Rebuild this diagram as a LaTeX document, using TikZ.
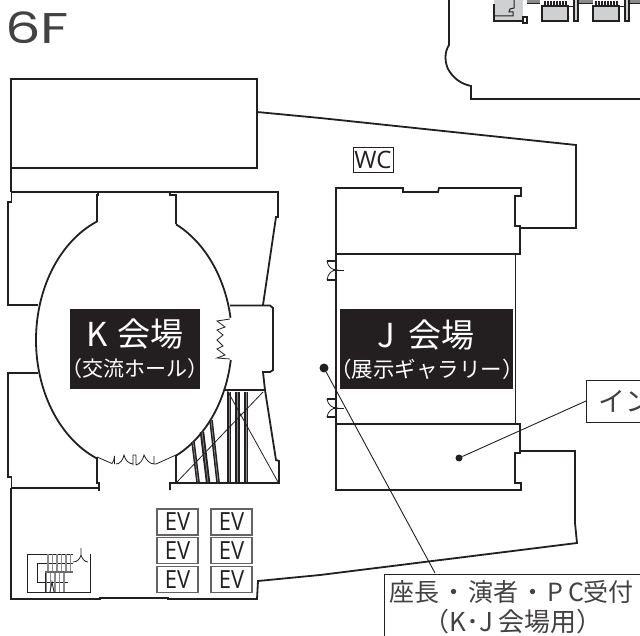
\documentclass[tikz,border=0pt]{standalone}
\usepackage{fontspec}
\newfontfamily\cjk{Noto Sans CJK JP}
\newfontfamily\lat{Open Sans}
\newfontfamily\latn[FakeStretch=0.88]{Open Sans}
\newfontfamily\ttlfont[FakeStretch=1.3]{Poppins}
\definecolor{ink}{HTML}{231F20}
\definecolor{gry}{HTML}{CFD0D2}
\definecolor{mid}{HTML}{8A8B8D}
\tikzset{
  wall/.style={draw=ink,line width=1.8pt,line join=miter},
  fine/.style={draw=ink,line width=0.8pt},
  lead/.style={draw=ink,line width=0.9pt},
  dotn/.style={circle,fill=ink,inner sep=0pt,minimum size=#1},
  evbox/.style={draw=ink!70,line width=1.1pt,minimum width=41pt,minimum height=26pt,inner sep=0pt,text=ink,font=\latn\fontsize{25}{25}\selectfont},
  blk/.style={fill=ink,draw=none,inner sep=0pt},
  wht/.style={text=white,inner sep=0pt},
  lab/.style={text=ink!85,inner sep=0pt},
  stairc/.style={draw=mid,line width=0.7pt},
  stp/.style={draw=mid,line width=1.8pt}
}
\begin{document}
\begin{tikzpicture}[x=1pt,y=-1pt]
\useasboundingbox (0,0) rectangle (640,636);
\clip (0,0) rectangle (640,636);
% upper right building
\draw[wall] (449,0) -- (449,45) .. controls (444,53) and (445,62) .. (448,69) .. controls (453,78) and (461,84) .. (471,86) -- (471,99) -- (640,99);
\fill[gry] (494,0) rectangle (523,21);
\draw[ink,line width=1.4pt] (494,4) -- (494,21) -- (523,21) -- (523,17);
\draw[ink,line width=1pt] (494,16) -- (513,16) -- (513,12) -- (509,12) -- (510,9) -- (514,8) -- (514,0);
\draw[ink,line width=1.2pt] (523,17) rectangle (527,23);
\foreach \a/\b in {527/540,578/593,629/640}{\fill[mid] (\a,0) rectangle (\b,3);\draw[ink,line width=.6pt] (\a,3) -- (\b,3);}
\foreach \x in {542,593}{
  \fill[gry] (\x,6) rectangle (\x+26,21);
  \draw[ink,line width=1.4pt] (\x,6) rectangle (\x+26,21);
  \foreach \k in {3,6,...,24}{\draw[ink,line width=1.2pt] (\x+\k,1) -- (\x+\k,6);}
  \draw[ink,line width=1pt] (\x+26,7) -- (\x+32,7);
}
\foreach \x in {574,625}{\fill[gry] (\x,0) rectangle (\x+4,21);\draw[ink,line width=1.3pt] (\x,0) -- (\x,21) -- (\x+4,21) -- (\x+4,0);}
% main outline
\draw[wall] (11,488) -- (11,599) -- (100,599) -- (100,598) -- (168,598) -- (168,599) -- (257,599) -- (258,581) -- (320,575) -- (577,543) -- (575,523) -- (575,451) -- (520,451) -- (520,453) -- (515,453) -- (515,483) -- (521,483) -- (521,490) -- (336,490) -- (336,188) -- (403,188) -- (403,192) -- (438,192) -- (439,188) -- (521,188) -- (521,196) -- (515,196) -- (515,226) -- (520,226) -- (520,228) -- (576,228) -- (576,145) -- (320,118) -- (257,112);
\draw[wall] (11,79) rectangle (257,168);
\draw[wall] (11,168) -- (11,192);
\draw[wall] (336,254) -- (520,254) -- (520,228);
\draw[wall] (515.5,254) -- (515.5,424);
\draw[wall] (336,424) -- (520,424) -- (520,451);
% K hall surround
\draw[wall] (38,305) -- (8,305) -- (8,202) -- (11.5,202) -- (11.5,192) -- (98,192) -- (98,195) -- (97,195) -- (97,222);
\draw[wall] (98,192) -- (170,192) -- (170,195) -- (176,195) -- (176,224);
\draw[wall] (170,192) -- (278,192) -- (278,217) -- (276,217) -- (263,305);
\draw[wall] (230,305.5) -- (270,305.5) -- (273,308) -- (273,370) -- (270,372) -- (263,372) -- (265,390) -- (276,460) -- (279,461) -- (279,483) -- (170,483) -- (170,490);
\draw[wall] (38,373) -- (8,373) -- (8,477) -- (11.5,477) -- (11.5,488) -- (99,488);
\draw[wall] (99,491) -- (99,483) -- (97,483) -- (97,457);
\draw[wall] (176,455) -- (176,483);
% ellipse
\draw[wall] plot[domain=112:248,samples=60,smooth] ({134+98*cos(\x)},{340+128*sin(\x)});
\draw[wall] plot[domain=-64.6:-10,samples=40,smooth] ({134+98*cos(\x)},{340+128*sin(\x)});
\draw[wall] plot[domain=9:65,samples=40,smooth] ({134+98*cos(\x)},{340+128*sin(\x)});
% doors of the hall
\draw[fine] (230,319) -- (217,321) -- (225,327) -- (217,330) -- (223,335) -- (217,340) -- (223,346) -- (217,349) -- (225,355) -- (217,358) -- (230,359);
\draw[fine] (97,457) -- (112,463.5) .. controls (114,462) and (114,459) .. (114.5,456) -- (114.5,464) (116,464) .. controls (120,464) and (123,460) .. (124,455) .. controls (125,460) and (129,464) .. (133,464) (133,455) -- (133,465) (136,455) -- (136,465) (133,455) -- (136,455) (136,465) .. controls (140,464) and (143,460) .. (144,455) .. controls (146,460) and (150,464) .. (154,464) (154,456) -- (154,464) -- (156,464) -- (176,455);
% stairs, lower right of hall
\draw[wall] (225,390) -- (265,390);
\foreach \a/\b/\c/\d/\w in {229/392/229/482/3.6,237/392/237/482/5,246/392/246/482/3.6,193/442/198/482/3.6,202/432/208/482/4.4,211/420/218/482/3.6}{
  \draw[draw=ink,line width=\w pt] (\a,\b) -- (\c,\d);
  \draw[stairc] (\a,\b) -- (\c,\d);
}
\draw[fine] (177,482) -- (263,392) (227,390) -- (278,482);
% stairs, lower left
\draw[fine] (73,554) -- (27,554) -- (27,592) -- (90,592) -- (90,554);
\draw[fine] (37,582) -- (37,563) -- (73,563);
\draw[fine] (37,582) -- (68,582);
\foreach \x in {48,52.5,...,73}{\draw[stp] (\x,554) -- (\x,572);}
\foreach \x in {46,50.5,...,68}{\draw[stp] (\x,572) -- (\x,592);}
\draw[draw=ink,line width=.7pt] (45,592) -- (45,572);
\draw[draw=mid!70!ink,line width=2.4pt] (45,572) -- (73,572);
\draw[fine] (50,592) -- (52,582) -- (54,592);
\draw[fine] (73,562) .. controls (77,562) and (80,559) .. (81,555) .. controls (82,559) and (85,562) .. (88,562) (81,548) -- (81,555);
% doors of room J
\foreach \t/\m/\b in {261/270/280,399/408/417}{
  \draw[wall,line width=1.3pt] (327,\t) -- (336,\t) (327,\b) -- (336,\b);
  \draw[fine] (327,\t) .. controls (328,\m-3) and (332,\m) .. (337,\m) .. controls (332,\m) and (328,\m+3) .. (327,\b);
  \draw[fine] (337,\m) -- (344,\m);
}
% black labels
\node[blk,minimum width=130pt,minimum height=80pt] (kbox) at (135,349) {};
\node[blk,minimum width=173pt,minimum height=80pt] (jbox) at (426.5,349) {};
\node[wht,font=\cjk\fontsize{33}{33}\selectfont] (kt) at (135,334) {K\hspace{2pt} 会場};
\node[wht,font=\cjk\fontsize{21}{21}\selectfont] (ks) at (135,369) {（交流ホール）};
\node[wht,font=\cjk\fontsize{33}{33}\selectfont] (jt) at (426,335) {J\hspace{5pt} 会場};
\node[wht,font=\cjk\fontsize{21.5}{22}\selectfont] (js) at (427,369) {（展示ギャラリー）};
% title
\node[lab,font=\ttlfont\fontsize{43}{43}\selectfont,anchor=base west] (ttl) at (5,44) {6F};
% WC
\node[draw=ink,line width=.9pt,minimum width=40pt,minimum height=25pt,inner sep=0pt,text=ink,font=\lat\fontsize{24}{24}\selectfont] (wc) at (373,159.5) {WC};
% EV
\node[evbox] (e1) at (177.5,522) {EV};
\node[evbox] (e2) at (231.5,522) {EV};
\node[evbox] (e3) at (177.5,550.5) {EV};
\node[evbox] (e4) at (231.5,550.5) {EV};
\node[evbox] (e5) at (177.5,579.5) {EV};
\node[evbox] (e6) at (231.5,579.5) {EV};
% callouts
\fill[white] (586,380) rectangle (640,422);
\draw[draw=ink,line width=.9pt] (640,380) -- (586,380) -- (586,422) -- (640,422);
\coordinate (inl) at (586,401);
\node[lab,font=\cjk\fontsize{27}{27}\selectfont,anchor=west] (int) at (598,401) {イン};
\node[dotn=7pt] (d1) at (459,458) {};
\draw[lead] (inl) -- (d1);
\fill[white] (384,574.5) rectangle (640,636);
\draw[draw=ink,line width=.9pt] (640,574.5) -- (384,574.5) -- (384,636);
\coordinate (rcl) at (435,573);
\node[lab,font=\cjk\fontsize{25}{25}\selectfont,anchor=west] (rc1) at (389,592) {座長\hspace{2pt}・\hspace{2pt}演者\hspace{2pt}・\hspace{2pt}P\hspace{5pt}C受付};
\node[lab,font=\cjk\fontsize{26}{26}\selectfont] (rc2) at (513,622) {（K･J 会場用）};
\node[dotn=9pt] (d2) at (324,368) {};
\draw[lead] (d2) -- (rcl);
\end{tikzpicture}
\end{document}
